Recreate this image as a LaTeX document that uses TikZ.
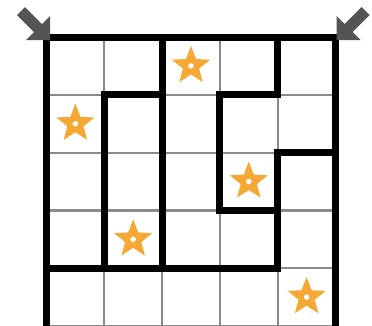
\documentclass[tikz,border=0pt]{standalone}
\usetikzlibrary{shapes.geometric}
\definecolor{starcol}{HTML}{F5A833}
\definecolor{arrowcol}{HTML}{545454}
\definecolor{gridcol}{HTML}{8A8A8A}
\tikzset{
  gridline/.style={draw=gridcol, line width=2.2pt},
  wall/.style={draw=black, line width=7pt, line cap=rect, line join=miter},
  starmark/.style={star, star points=5, star point ratio=2.35, fill=starcol, draw=none, inner sep=0pt, minimum size=40pt},
  dotmark/.style={circle, fill=white, inner sep=0pt, minimum size=5.5pt},
  bigarrow/.style={fill=arrowcol, draw=none}
}
\begin{document}
\begin{tikzpicture}[x=1pt,y=-1pt]
\useasboundingbox (0,0) rectangle (372,325);
\fill[white] (0,0) rectangle (372,325);
\begin{scope}[shift={(46.5,37)}, x=57.8pt, y=-57.8pt]
  \foreach \i in {1,2,3,4,5} {
    \draw[gridline] (\i,0) -- (\i,5);
    \draw[gridline] (0,\i) -- (5,\i);
  }
  \draw[wall] (0,5) -- (0,0) -- (5,0) -- (5,5);
  \draw[wall] (2,0) -- (2,4);
  \draw[wall] (1,4) -- (1,1) -- (2,1);
  \draw[wall] (0,4) -- (4,4) -- (4,2) -- (5,2);
  \draw[wall] (4,0) -- (4,1) -- (3,1) -- (3,3) -- (4,3);
  \foreach \n/\c/\r in {s1/2/0, s2/0/1, s3/3/2, s4/1/3, s5/4/4} {
    \node[starmark] (\n) at (\c+0.5,\r+0.5) {};
    \node[dotmark] (\n d) at (\n.center) {};
  }
\end{scope}
\fill[bigarrow] (25,7) -- (42,24) -- (50,16) -- (50,40) -- (26,40) -- (34,32) -- (17,15) -- cycle;
\fill[bigarrow] (361.6,7) -- (344.6,24) -- (336.6,16) -- (336.6,40) -- (360.6,40) -- (352.6,32) -- (369.6,15) -- cycle;
\end{tikzpicture}
\end{document}
